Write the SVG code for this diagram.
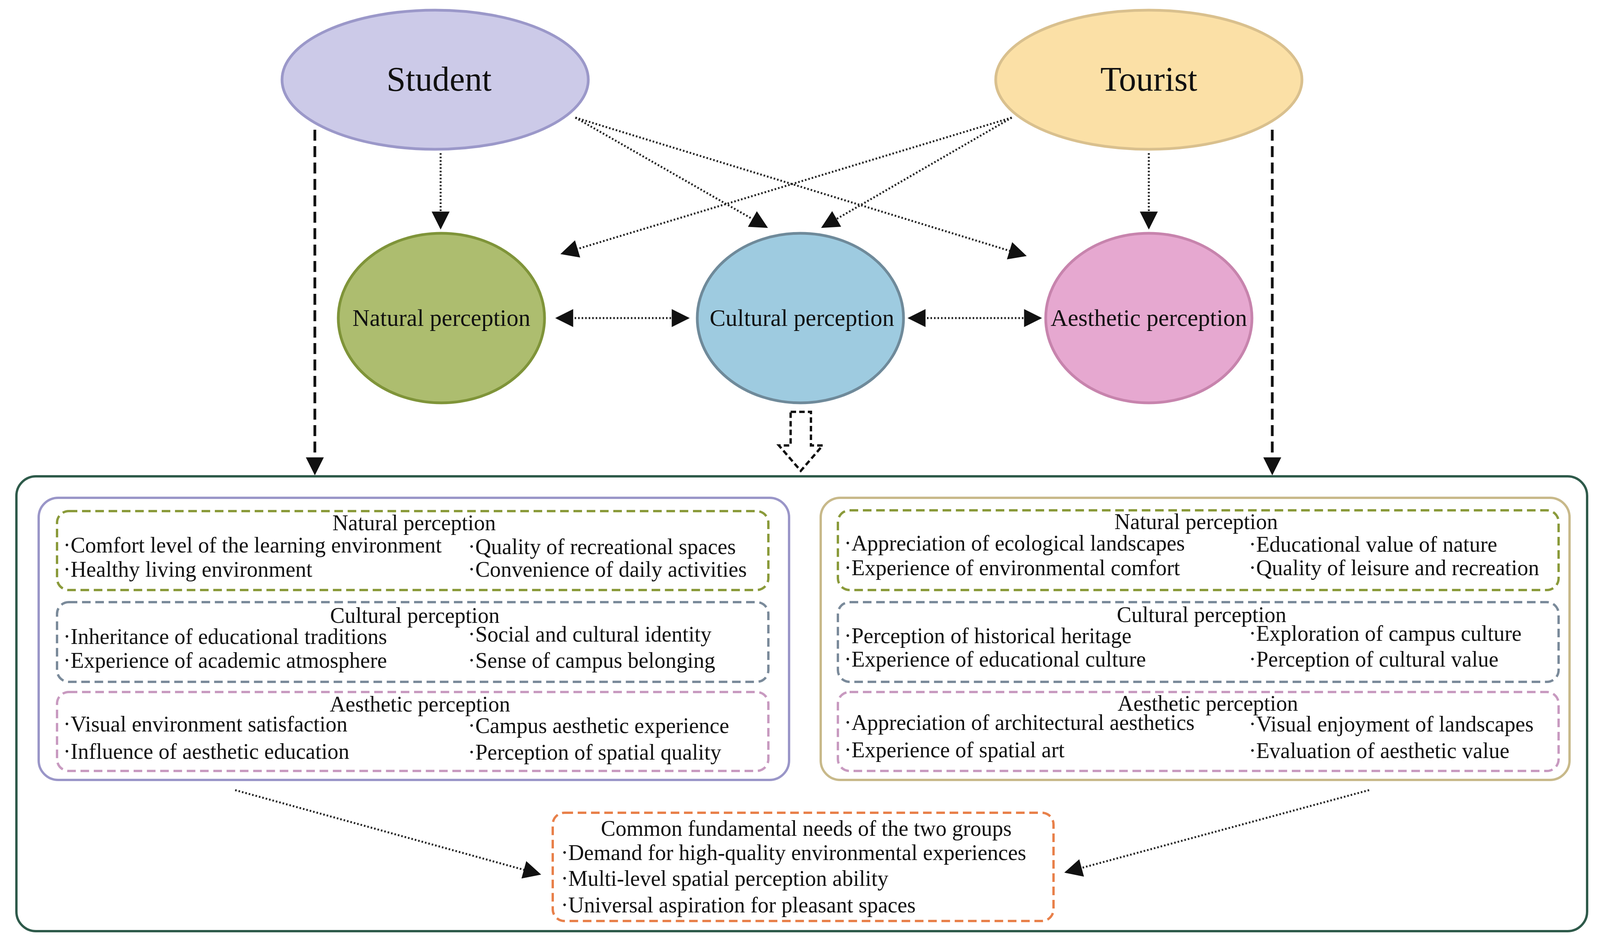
<svg xmlns="http://www.w3.org/2000/svg" width="4102" height="2421" viewBox="0 0 4102 2421">
<style>
text{font-family:"Liberation Serif","Times New Roman",serif;fill:#111}
.big{font-size:88px}
.mid{font-size:61px}
.t{font-size:56px}
.dot{stroke:#222;stroke-width:5;stroke-dasharray:4 5;fill:none}
.dash{stroke:#111;stroke-width:7;stroke-dasharray:28 14;fill:none}
.sub{fill:none;stroke-width:6;stroke-dasharray:22 12}
</style>
<defs>
<marker id="ah" viewBox="0 0 10 10" refX="9" refY="5" markerWidth="56" markerHeight="46" markerUnits="userSpaceOnUse" orient="auto-start-reverse"><path d="M0,0 L10,5 L0,10 z" fill="#111"/></marker>
</defs>
<rect width="4102" height="2421" fill="#fff"/>
<g id="connectors">
<line class="dash" x1="806" y1="332" x2="806" y2="1212" marker-end="url(#ah)"/>
<line class="dash" x1="3257" y1="332" x2="3257" y2="1212" marker-end="url(#ah)"/>
<line class="dot" x1="1128" y1="392" x2="1128" y2="583" marker-end="url(#ah)"/>
<line class="dot" x1="2941" y1="392" x2="2941" y2="583" marker-end="url(#ah)"/>
<line class="dot" x1="1473" y1="301" x2="1962" y2="581" marker-end="url(#ah)"/>
<line class="dot" x1="1473" y1="301" x2="2624" y2="654" marker-end="url(#ah)"/>
<line class="dot" x1="2590" y1="301" x2="1439" y2="649" marker-end="url(#ah)"/>
<line class="dot" x1="2590" y1="301" x2="2106" y2="581" marker-end="url(#ah)"/>
<line class="dot" x1="1426" y1="814" x2="1761" y2="814" marker-start="url(#ah)" marker-end="url(#ah)"/>
<line class="dot" x1="2328" y1="814" x2="2663" y2="814" marker-start="url(#ah)" marker-end="url(#ah)"/>
<path d="M2024,1054 L2076,1054 L2076,1140 L2106,1140 L2050,1205 L1994,1140 L2024,1140 Z" fill="#fff" stroke="#111" stroke-width="6" stroke-dasharray="14 8"/>
<line class="dot" x1="602" y1="2022" x2="1381" y2="2237" marker-end="url(#ah)"/>
<line class="dot" x1="3505" y1="2022" x2="2729" y2="2232" marker-end="url(#ah)"/>
</g>
<g id="student"><ellipse cx="1114" cy="204" rx="392" ry="178" fill="#cccae8" stroke="#9b98c9" stroke-width="7"/><text class="big" x="1124" y="232" text-anchor="middle">Student</text></g>
<g id="tourist"><ellipse cx="2941" cy="204" rx="392" ry="178" fill="#fbe0a6" stroke="#d9c08e" stroke-width="7"/><text class="big" x="2941" y="232" text-anchor="middle">Tourist</text></g>
<g id="natural"><ellipse cx="1130" cy="814" rx="264" ry="217" fill="#adbd6f" stroke="#7f9439" stroke-width="7"/><text class="mid" x="1130" y="834" text-anchor="middle">Natural perception</text></g>
<g id="cultural"><ellipse cx="2049" cy="814" rx="264" ry="217" fill="#9ecbe0" stroke="#6f8a9a" stroke-width="7"/><text class="mid" x="2053" y="834" text-anchor="middle">Cultural perception</text></g>
<g id="aesthetic"><ellipse cx="2941" cy="814" rx="264" ry="217" fill="#e6a8d0" stroke="#c784ad" stroke-width="7"/><text class="mid" x="2941" y="834" text-anchor="middle">Aesthetic perception</text></g>
<g id="outer"><rect x="42" y="1219" width="4021" height="1164" rx="50" fill="none" stroke="#2e5a4a" stroke-width="6"/></g>
<g id="student-panel">
<rect x="99" y="1274" width="1921" height="722" rx="50" fill="none" stroke="#9a96c8" stroke-width="6"/>
<rect class="sub" x="146" y="1308" width="1821" height="202" rx="30" stroke="#8a9a3a"/>
<rect class="sub" x="146" y="1541" width="1821" height="204" rx="30" stroke="#7a8a9a"/>
<rect class="sub" x="146" y="1771" width="1821" height="202" rx="30" stroke="#c89ac0"/>
<text class="t" x="1060" y="1357" text-anchor="middle">Natural perception</text>
<text class="t" x="162" y="1414">·Comfort level of the learning environment</text>
<text class="t" x="1198" y="1418">·Quality of recreational spaces</text>
<text class="t" x="162" y="1476">·Healthy living environment</text>
<text class="t" x="1198" y="1476">·Convenience of daily activities</text>
<text class="t" x="1062" y="1594" text-anchor="middle">Cultural perception</text>
<text class="t" x="162" y="1648">·Inheritance of educational traditions</text>
<text class="t" x="1198" y="1642">·Social and cultural identity</text>
<text class="t" x="162" y="1709">·Experience of academic atmosphere</text>
<text class="t" x="1198" y="1709">·Sense of campus belonging</text>
<text class="t" x="1075" y="1821" text-anchor="middle">Aesthetic perception</text>
<text class="t" x="162" y="1872">·Visual environment satisfaction</text>
<text class="t" x="1198" y="1876">·Campus aesthetic experience</text>
<text class="t" x="162" y="1942">·Influence of aesthetic education</text>
<text class="t" x="1198" y="1944">·Perception of spatial quality</text>
</g>
<g id="tourist-panel">
<rect x="2101" y="1274" width="1917" height="722" rx="50" fill="none" stroke="#c8b98a" stroke-width="6"/>
<rect class="sub" x="2145" y="1306" width="1845" height="204" rx="30" stroke="#8a9a3a"/>
<rect class="sub" x="2145" y="1541" width="1845" height="204" rx="30" stroke="#7a8a9a"/>
<rect class="sub" x="2145" y="1771" width="1845" height="202" rx="30" stroke="#c89ac0"/>
<text class="t" x="3062" y="1354" text-anchor="middle">Natural perception</text>
<text class="t" x="2161" y="1409">·Appreciation of ecological landscapes</text>
<text class="t" x="3197" y="1412">·Educational value of nature</text>
<text class="t" x="2161" y="1472">·Experience of environmental comfort</text>
<text class="t" x="3197" y="1472">·Quality of leisure and recreation</text>
<text class="t" x="3076" y="1592" text-anchor="middle">Cultural perception</text>
<text class="t" x="2161" y="1646">·Perception of historical heritage</text>
<text class="t" x="3197" y="1640">·Exploration of campus culture</text>
<text class="t" x="2161" y="1706">·Experience of educational culture</text>
<text class="t" x="3197" y="1706">·Perception of cultural value</text>
<text class="t" x="3092" y="1819" text-anchor="middle">Aesthetic perception</text>
<text class="t" x="2161" y="1868">·Appreciation of architectural aesthetics</text>
<text class="t" x="3197" y="1872">·Visual enjoyment of landscapes</text>
<text class="t" x="2161" y="1938">·Experience of spatial art</text>
<text class="t" x="3197" y="1940">·Evaluation of aesthetic value</text>
</g>
<g id="common">
<rect class="sub" x="1415" y="2080" width="1282" height="277" rx="30" stroke="#e8804a"/>
<text class="t" x="2064" y="2139" text-anchor="middle">Common fundamental needs of the two groups</text>
<text class="t" x="1436" y="2201">·Demand for high-quality environmental experiences</text>
<text class="t" x="1436" y="2267">·Multi-level spatial perception ability</text>
<text class="t" x="1436" y="2335">·Universal aspiration for pleasant spaces</text>
</g>
</svg>
